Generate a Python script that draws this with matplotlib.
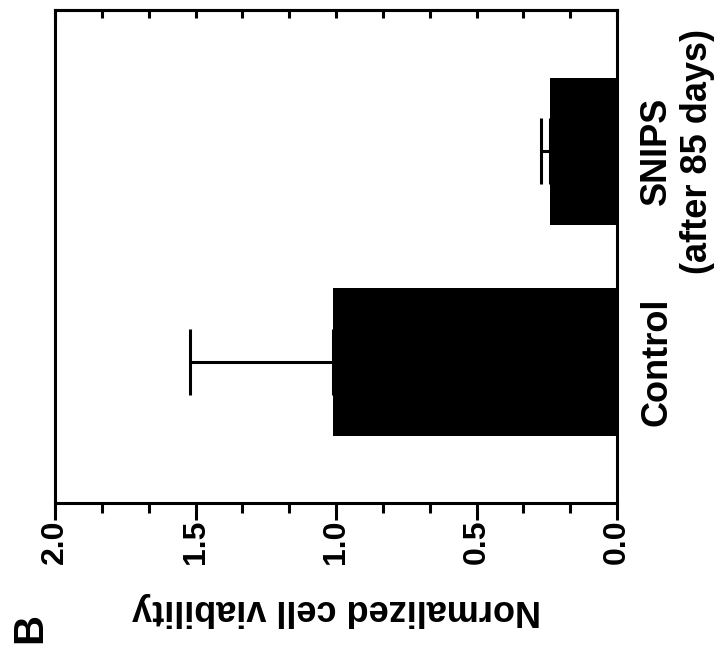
import matplotlib
matplotlib.use("Agg")
import matplotlib.pyplot as plt
from matplotlib.ticker import AutoMinorLocator

plt.rcParams['font.family'] = ['Liberation Sans', 'DejaVu Sans']
plt.rcParams['font.weight'] = 'bold'

# data (chart is drawn rotated: value axis runs right-to-left along the bottom)
groups = ['Control', 'SNIPS\n(after 85 days)']
viability = [1.01, 0.24]
viability_err = [0.51, 0.03]
value_ticks = [0.0, 0.5, 1.0, 1.5, 2.0]
value_ticklabels = ['0.0', '0.5', '1.0', '1.5', '2.0']

fig = plt.figure(figsize=(7.2, 6.52), dpi=100)
ax = fig.add_axes([0.0764, 0.2285, 0.7806, 0.756])

ypos = list(range(len(groups)))
ax.barh(ypos, viability, height=0.70, color='black', zorder=3)
ax.errorbar(viability, ypos, xerr=[[0] * len(groups), viability_err], fmt='none',
            ecolor='black', elinewidth=2.2, capsize=24, capthick=2.2, zorder=2)

ax.set_xlim(2.0, 0.0)
ax.set_ylim(-0.67, 1.67)

for s in ax.spines.values():
    s.set_linewidth(2.2)

# bottom value axis
ax.set_xticks(value_ticks)
ax.set_xticklabels(value_ticklabels, rotation=90, fontsize=23, fontweight='bold',
                   va='top', ha='center')
ax.xaxis.set_minor_locator(AutoMinorLocator(3))
ax.tick_params(axis='x', which='major', direction='out', length=12, width=2.2, pad=0)
ax.tick_params(axis='x', which='minor', direction='out', length=7, width=2.2)

# mirrored inward ticks on the top spine
top = ax.secondary_xaxis('top')
top.set_xticks(value_ticks)
top.xaxis.set_minor_locator(AutoMinorLocator(3))
top.tick_params(which='both', direction='in', length=6, width=2.2, labeltop=False)
top.spines['top'].set_linewidth(2.2)

# category labels on the right
ax.yaxis.tick_right()
ax.set_yticks(ypos)
ax.set_yticklabels(groups, rotation=90, fontsize=26, fontweight='bold',
                   va='center', ha='left', multialignment='center')
ax.tick_params(axis='y', length=0, pad=16)

ax.set_xlabel('Normalized cell viability', rotation=180, fontsize=26,
              fontweight='bold', labelpad=20)

fig.text(0.042, 0.037, 'B', rotation=90, fontsize=30, fontweight='bold',
         ha='center', va='center')

fig.savefig('out.png', dpi=100)
